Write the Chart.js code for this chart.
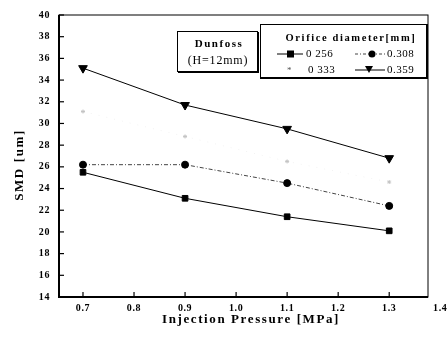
<!DOCTYPE html>
<html>
<head>
<meta charset="utf-8">
<script src="https://cdn.jsdelivr.net/npm/chart.js@4.4.0/dist/chart.umd.min.js"></script>
<style>
  html, body { margin: 0; padding: 0; background: #fff; }
  #wrap { width: 447px; height: 340px; }
</style>
</head>
<body>
<div id="wrap"><canvas id="c" width="447" height="340"></canvas></div>
<script>
const pressure = [0.7, 0.9, 1.1, 1.3];
const d256 = [25.5, 23.1, 21.4, 20.1];
const d308 = [26.2, 26.2, 24.5, 22.4];
const d333 = [31.1, 28.8, 26.5, 24.6];
const d359 = [35.1, 31.7, 29.5, 26.8];
const xTicks = [0.7, 0.8, 0.9, 1.0, 1.1, 1.2, 1.3, 1.4];
const yTicks = [14, 16, 18, 20, 22, 24, 26, 28, 30, 32, 34, 36, 38, 40];

const serif = '"Liberation Serif", "DejaVu Serif", serif';

function pts(ys) {
    return pressure.map((x, i) => ({ x: x, y: ys[i] }));
}

// the scanned original has widely spaced lettering
const spacing = {
    id: 'spacing',
    beforeDraw(chart) { chart.ctx.letterSpacing = '0.6px'; }
};

// frame, inward ticks, titles, 1.4 label and the two boxes
const decor = {
    id: 'decor',
    afterDraw(chart) {
        const ctx = chart.ctx;
        const a = chart.chartArea;
        const xs = chart.scales.x, ys = chart.scales.y;
        ctx.save();
        ctx.strokeStyle = '#000';
        ctx.lineWidth = 1;
        ctx.strokeRect(a.left, a.top, a.right - a.left, a.bottom - a.top);
        ctx.lineWidth = 2;
        ctx.beginPath();
        ctx.moveTo(a.left, a.top);
        ctx.lineTo(a.left, a.bottom);
        ctx.lineTo(a.right, a.bottom);
        ctx.stroke();

        ctx.lineWidth = 1.2;
        yTicks.forEach(v => {
            const y = ys.getPixelForValue(v);
            ctx.beginPath();
            ctx.moveTo(a.left, y);
            ctx.lineTo(a.left + 5, y);
            ctx.stroke();
        });
        xTicks.forEach(v => {
            const x = xs.getPixelForValue(v);
            if (x > a.right) return;
            ctx.beginPath();
            ctx.moveTo(x, a.bottom);
            ctx.lineTo(x, a.bottom - 5);
            ctx.stroke();
        });

        ctx.fillStyle = '#000';
        ctx.font = 'bold 10px ' + serif;
        ctx.textAlign = 'center';
        ctx.textBaseline = 'middle';
        ctx.letterSpacing = '0.6px';
        ctx.fillText('1.4', xs.getPixelForValue(1.4), a.bottom + 11);

        // axis titles
        ctx.font = 'bold 13px ' + serif;
        ctx.letterSpacing = '1.6px';
        ctx.fillText('Injection Pressure [MPa]', 251, 320);
        ctx.save();
        ctx.translate(20, 165);
        ctx.rotate(-Math.PI / 2);
        ctx.fillText('SMD [um]', 0, 0);
        ctx.restore();

        // Dunfoss box
        ctx.fillStyle = '#fff';
        ctx.fillRect(177, 31, 81, 41);
        ctx.lineWidth = 1;
        ctx.strokeRect(177.5, 31.5, 80, 40);
        ctx.lineWidth = 2;
        ctx.beginPath();
        ctx.moveTo(178, 72); ctx.lineTo(258, 72); ctx.lineTo(258, 32);
        ctx.stroke();
        ctx.fillStyle = '#000';
        ctx.font = 'bold 11px ' + serif;
        ctx.letterSpacing = '1.5px';
        ctx.fillText('Dunfoss', 219, 44);
        ctx.font = '12px ' + serif;
        ctx.letterSpacing = '0.8px';
        ctx.fillText('(H=12mm)', 218, 61);

        // legend box
        ctx.fillStyle = '#fff';
        ctx.fillRect(260, 24, 168, 55);
        ctx.lineWidth = 1;
        ctx.strokeRect(260.5, 24.5, 167, 54);
        ctx.lineWidth = 2;
        ctx.beginPath();
        ctx.moveTo(261, 78); ctx.lineTo(427, 78); ctx.lineTo(427, 25);
        ctx.stroke();
        ctx.fillStyle = '#000';
        ctx.font = 'bold 10.5px ' + serif;
        ctx.letterSpacing = '1.6px';
        ctx.fillText('Orifice diameter[mm]', 351, 38);

        ctx.font = '11px ' + serif;
        ctx.letterSpacing = '0.5px';
        ctx.textAlign = 'left';
        // 0.256
        ctx.lineWidth = 1;
        ctx.beginPath(); ctx.moveTo(277, 54); ctx.lineTo(303, 54); ctx.stroke();
        ctx.fillRect(287, 50.5, 7, 7);
        ctx.fillText('0 256', 306, 54);
        // 0.308
        ctx.strokeStyle = '#444';
        ctx.setLineDash([3, 2, 1, 2]);
        ctx.beginPath(); ctx.moveTo(355, 54); ctx.lineTo(385, 54); ctx.stroke();
        ctx.setLineDash([]);
        ctx.beginPath(); ctx.arc(372, 54, 3.5, 0, Math.PI * 2); ctx.fill();
        ctx.fillText('0.308', 387, 54);
        // 0.333
        ctx.fillStyle = '#555';
        ctx.font = '9px ' + serif;
        ctx.fillText('*', 287, 71);
        ctx.fillStyle = '#000';
        ctx.font = '11px ' + serif;
        ctx.fillText('0 333', 308, 70);
        // 0.359
        ctx.strokeStyle = '#000';
        ctx.beginPath(); ctx.moveTo(355, 70); ctx.lineTo(385, 70); ctx.stroke();
        ctx.beginPath();
        ctx.moveTo(365, 66); ctx.lineTo(373, 66); ctx.lineTo(369, 73); ctx.closePath();
        ctx.fill();
        ctx.fillText('0.359', 387, 70);
        ctx.restore();
    }
};

new Chart(document.getElementById('c').getContext('2d'), {
    type: 'line',
    data: {
        datasets: [
            {
                label: '0.256', data: pts(d256),
                borderColor: '#000', backgroundColor: '#000', borderWidth: 1,
                pointStyle: 'rect', pointRadius: 4
            },
            {
                label: '0.308', data: pts(d308),
                borderColor: '#444', backgroundColor: '#000', borderWidth: 1,
                borderDash: [4, 2, 1, 2],
                pointStyle: 'circle', pointRadius: 3.5, pointBorderColor: '#000'
            },
            {
                label: '0.333', data: pts(d333),
                borderColor: '#f2f2f2', backgroundColor: '#ccc', borderWidth: 1,
                borderDash: [1, 7],
                pointStyle: 'star', pointRadius: 2, pointBorderColor: '#c4c4c4'
            },
            {
                label: '0.359', data: pts(d359),
                borderColor: '#000', backgroundColor: '#000', borderWidth: 1,
                pointStyle: 'triangle', pointRotation: 180, pointRadius: 5
            }
        ]
    },
    options: {
        responsive: false,
        animation: false,
        layout: { padding: { top: 9, right: 19, left: 0, bottom: 0 } },
        plugins: { legend: { display: false }, tooltip: { enabled: false } },
        scales: {
            x: {
                type: 'linear', min: 0.653, max: 1.376,
                afterBuildTicks: s => { s.ticks = xTicks.filter(v => v <= 1.376).map(v => ({ value: v })); },
                afterFit: s => { s.height = 43; },
                grid: { display: false, drawTicks: false },
                border: { display: false },
                ticks: {
                    color: '#000', padding: 5,
                    font: { family: serif, size: 10, weight: 'bold' },
                    callback: v => v.toFixed(1)
                }
            },
            y: {
                type: 'linear', min: 14, max: 40,
                afterBuildTicks: s => { s.ticks = yTicks.map(v => ({ value: v })); },
                afterFit: s => { s.width = 59; },
                grid: { display: false, drawTicks: false },
                border: { display: false },
                ticks: {
                    color: '#000', padding: 9,
                    font: { family: serif, size: 10, weight: 'bold' }
                }
            }
        }
    },
    plugins: [spacing, decor]
});
</script>
</body>
</html>
